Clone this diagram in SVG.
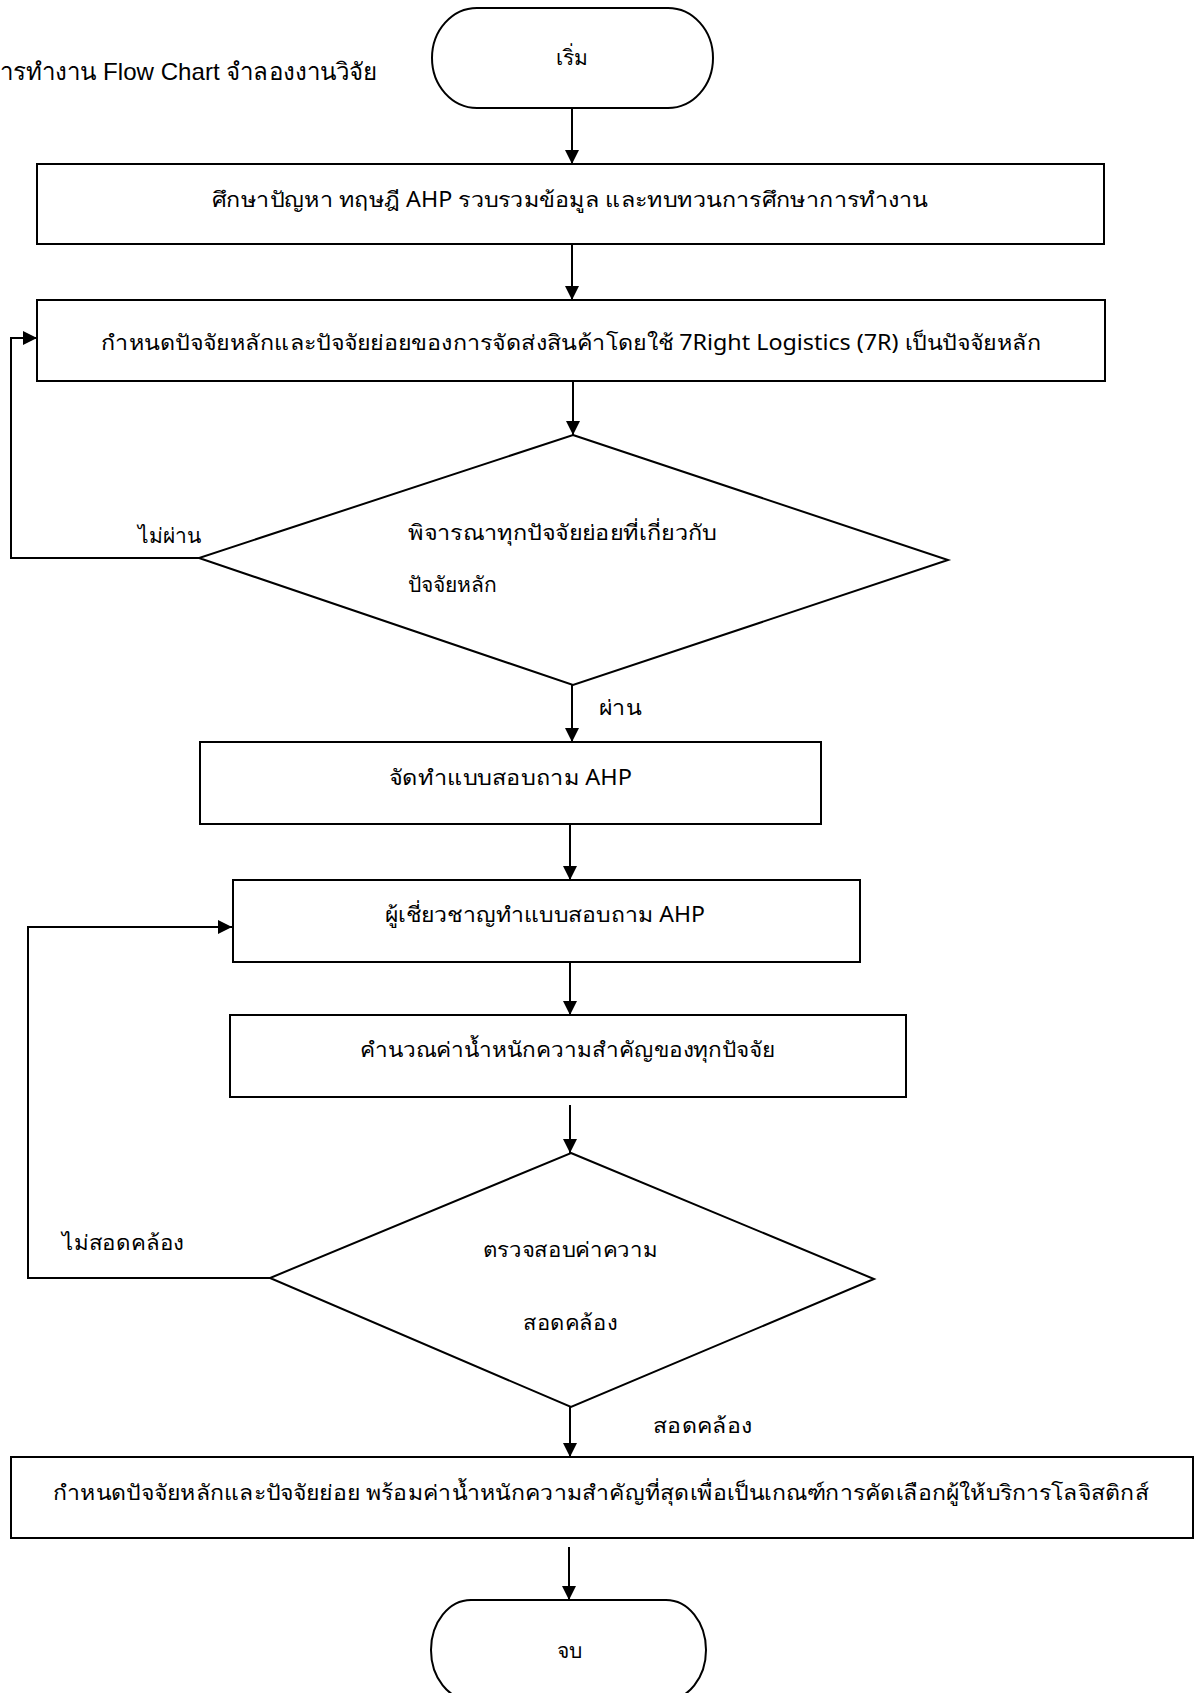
<svg xmlns="http://www.w3.org/2000/svg" width="1197" height="1693" viewBox="0 0 1197 1693">
<style>
  .shape { fill: #ffffff; stroke: #000000; stroke-width: 2; }
  .conn { fill: none; stroke: #000000; stroke-width: 2; }
  .t { font-family: "Noto Sans", "DejaVu Sans", "Liberation Sans", sans-serif; font-size: 21px; fill: #000000; }
  .title { font-family: "Liberation Sans", "Noto Sans", sans-serif; font-size: 24px; fill: #000000; }
</style>
<defs>
  <marker id="arrow" viewBox="0 0 14 14" refX="14" refY="7" markerWidth="14" markerHeight="14" markerUnits="userSpaceOnUse" orient="auto">
    <path d="M0,0 L14,7 L0,14 z" fill="#000000"/>
  </marker>
</defs>
<rect width="1197" height="1693" fill="#ffffff"/>

<text class="title" x="0" y="80" textLength="377" lengthAdjust="spacingAndGlyphs">ารทำงาน Flow Chart จำลองงานวิจัย</text>

<g id="connectors">
  <line class="conn" x1="572" y1="108" x2="572" y2="164" marker-end="url(#arrow)"/>
  <line class="conn" x1="572" y1="245" x2="572" y2="300" marker-end="url(#arrow)"/>
  <line class="conn" x1="573" y1="381" x2="573" y2="435" marker-end="url(#arrow)"/>
  <polyline class="conn" points="199,558 11,558 11,338 37,338" marker-end="url(#arrow)"/>
  <line class="conn" x1="572" y1="685" x2="572" y2="742" marker-end="url(#arrow)"/>
  <line class="conn" x1="570" y1="824" x2="570" y2="880" marker-end="url(#arrow)"/>
  <line class="conn" x1="570" y1="962" x2="570" y2="1015" marker-end="url(#arrow)"/>
  <line class="conn" x1="570" y1="1105" x2="570" y2="1153" marker-end="url(#arrow)"/>
  <polyline class="conn" points="270,1278 28,1278 28,927 232,927" marker-end="url(#arrow)"/>
  <line class="conn" x1="570" y1="1407" x2="570" y2="1457" marker-end="url(#arrow)"/>
  <line class="conn" x1="569" y1="1547" x2="569" y2="1600" marker-end="url(#arrow)"/>
  <text class="t" x="138" y="543" textLength="63" lengthAdjust="spacingAndGlyphs">ไม่ผ่าน</text>
  <text class="t" x="599" y="715" textLength="42" lengthAdjust="spacingAndGlyphs">ผ่าน</text>
  <text class="t" x="62" y="1250" textLength="122" lengthAdjust="spacingAndGlyphs">ไม่สอดคล้อง</text>
  <text class="t" x="653" y="1433" textLength="99" lengthAdjust="spacingAndGlyphs">สอดคล้อง</text>
</g>

<g id="start">
  <rect class="shape" x="432" y="8" width="281" height="100" rx="45" ry="50"/>
  <text class="t" x="572" y="65" text-anchor="middle">เริ่ม</text>
</g>

<g id="study">
  <rect class="shape" x="37" y="164" width="1067" height="80"/>
  <text class="t" x="212" y="207" textLength="716" lengthAdjust="spacingAndGlyphs">ศึกษาปัญหา ทฤษฎี AHP รวบรวมข้อมูล และทบทวนการศึกษาการทำงาน</text>
</g>

<g id="define-factors">
  <rect class="shape" x="37" y="300" width="1068" height="81"/>
  <text class="t" x="101" y="350" textLength="940" lengthAdjust="spacingAndGlyphs">กำหนดปัจจัยหลักและปัจจัยย่อยของการจัดส่งสินค้าโดยใช้ 7Right Logistics (7R) เป็นปัจจัยหลัก</text>
</g>

<g id="decision-factors">
  <polygon class="shape" points="573,435 948,560 573,685 199,558"/>
  <text class="t" x="408" y="540" textLength="309" lengthAdjust="spacingAndGlyphs">พิจารณาทุกปัจจัยย่อยที่เกี่ยวกับ</text>
  <text class="t" x="408" y="592">ปัจจัยหลัก</text>
</g>

<g id="make-questionnaire">
  <rect class="shape" x="200" y="742" width="621" height="82"/>
  <text class="t" x="389" y="785" textLength="243" lengthAdjust="spacingAndGlyphs">จัดทำแบบสอบถาม AHP</text>
</g>

<g id="experts">
  <rect class="shape" x="233" y="880" width="627" height="82"/>
  <text class="t" x="385" y="922" textLength="320" lengthAdjust="spacingAndGlyphs">ผู้เชี่ยวชาญทำแบบสอบถาม AHP</text>
</g>

<g id="calculate">
  <rect class="shape" x="230" y="1015" width="676" height="82"/>
  <text class="t" x="360" y="1057" textLength="415" lengthAdjust="spacingAndGlyphs">คำนวณค่าน้ำหนักความสำคัญของทุกปัจจัย</text>
</g>

<g id="decision-consistency">
  <polygon class="shape" points="571,1153 874,1279 571,1407 270,1278"/>
  <text class="t" x="570" y="1257" text-anchor="middle" textLength="175" lengthAdjust="spacingAndGlyphs">ตรวจสอบค่าความ</text>
  <text class="t" x="570" y="1330" text-anchor="middle" textLength="94" lengthAdjust="spacingAndGlyphs">สอดคล้อง</text>
</g>

<g id="final">
  <rect class="shape" x="11" y="1457" width="1182" height="81"/>
  <text class="t" x="53" y="1500" textLength="1096" lengthAdjust="spacingAndGlyphs">กำหนดปัจจัยหลักและปัจจัยย่อย พร้อมค่าน้ำหนักความสำคัญที่สุดเพื่อเป็นเกณฑ์การคัดเลือกผู้ให้บริการโลจิสติกส์</text>
</g>

<g id="end">
  <rect class="shape" x="431" y="1600" width="275" height="100" rx="40" ry="50"/>
  <text class="t" x="569" y="1658" text-anchor="middle">จบ</text>
</g>
</svg>
